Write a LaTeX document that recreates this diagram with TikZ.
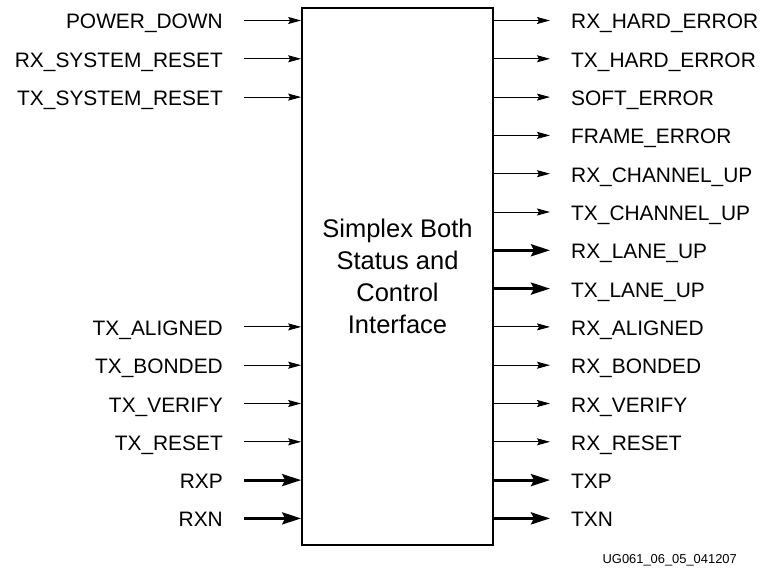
\documentclass[tikz,border=0pt]{standalone}
\usepackage{fontspec}
\setmainfont{Liberation Sans}
\usetikzlibrary{arrows.meta}
\begin{document}
\begin{tikzpicture}[x=1pt,y=-1pt,
  lbl/.style={inner sep=0pt,font=\fontsize{20.9}{24}\selectfont,text height=15pt,text depth=0pt},
  inl/.style={lbl,anchor=east},
  outl/.style={lbl,anchor=west},
  sig/.style={line width=0.9pt,-{Stealth[length=13pt,width=7pt,inset=2pt]}},
  bus/.style={line width=3pt,-{Stealth[length=19pt,width=12pt,inset=3pt]}},
  blk/.style={draw,line width=1.7pt,minimum width=191pt,minimum height=537pt,inner sep=0pt,align=center,
    font=\fontsize{25.5}{32}\selectfont}]
\useasboundingbox (0,0) rectangle (762,567);
\node[blk] (box) at (397.5,276.5) {Simplex Both\\Status and\\Control\\Interface};
% left inputs
\node[inl] (l0) at (223,21.5) {POWER\_DOWN};
\node[inl] (l1) at (223,59.8) {RX\_SYSTEM\_RESET};
\node[inl] (l2) at (223,98.1) {TX\_SYSTEM\_RESET};
\node[inl] (l8) at (223,327.9) {TX\_ALIGNED};
\node[inl] (l9) at (223,366.2) {TX\_BONDED};
\node[inl] (l10) at (223,404.5) {TX\_VERIFY};
\node[inl] (l11) at (223,442.8) {TX\_RESET};
\node[inl] (l12) at (223,481.1) {RXP};
\node[inl] (l13) at (223,519.4) {RXN};
\foreach \i in {0,1,2,8,9,10,11}{
  \draw[sig] ([xshift=21pt,yshift=1pt]l\i.east) -- ([yshift=1pt]l\i.east -| box.west);
}
\foreach \i in {12,13}{
  \draw[bus] ([xshift=21pt,yshift=1pt]l\i.east) -- ([yshift=1pt]l\i.east -| box.west);
}
% right outputs
\node[outl] (r0) at (571,21.5) {RX\_HARD\_ERROR};
\node[outl] (r1) at (571,59.8) {TX\_HARD\_ERROR};
\node[outl] (r2) at (571,98.1) {SOFT\_ERROR};
\node[outl] (r3) at (571,136.4) {FRAME\_ERROR};
\node[outl] (r4) at (571,174.7) {RX\_CHANNEL\_UP};
\node[outl] (r5) at (571,213.0) {TX\_CHANNEL\_UP};
\node[outl] (r6) at (571,251.3) {RX\_LANE\_UP};
\node[outl] (r7) at (571,289.6) {TX\_LANE\_UP};
\node[outl] (r8) at (571,327.9) {RX\_ALIGNED};
\node[outl] (r9) at (571,366.2) {RX\_BONDED};
\node[outl] (r10) at (571,404.5) {RX\_VERIFY};
\node[outl] (r11) at (571,442.8) {RX\_RESET};
\node[outl] (r12) at (571,481.1) {TXP};
\node[outl] (r13) at (571,519.4) {TXN};
\foreach \i in {0,1,2,3,4,5,8,9,10,11}{
  \draw[sig] ([yshift=1pt]r\i.west -| box.east) -- ([xshift=-21pt,yshift=1pt]r\i.west);
}
\foreach \i in {6,7,12,13}{
  \draw[bus] ([yshift=1pt]r\i.west -| box.east) -- ([xshift=-21pt,yshift=1pt]r\i.west);
}
\node[anchor=east,inner sep=0pt,font=\fontsize{12.9}{15}\selectfont] (id) at (737,560) {UG061\_06\_05\_041207};
\end{tikzpicture}
\end{document}
